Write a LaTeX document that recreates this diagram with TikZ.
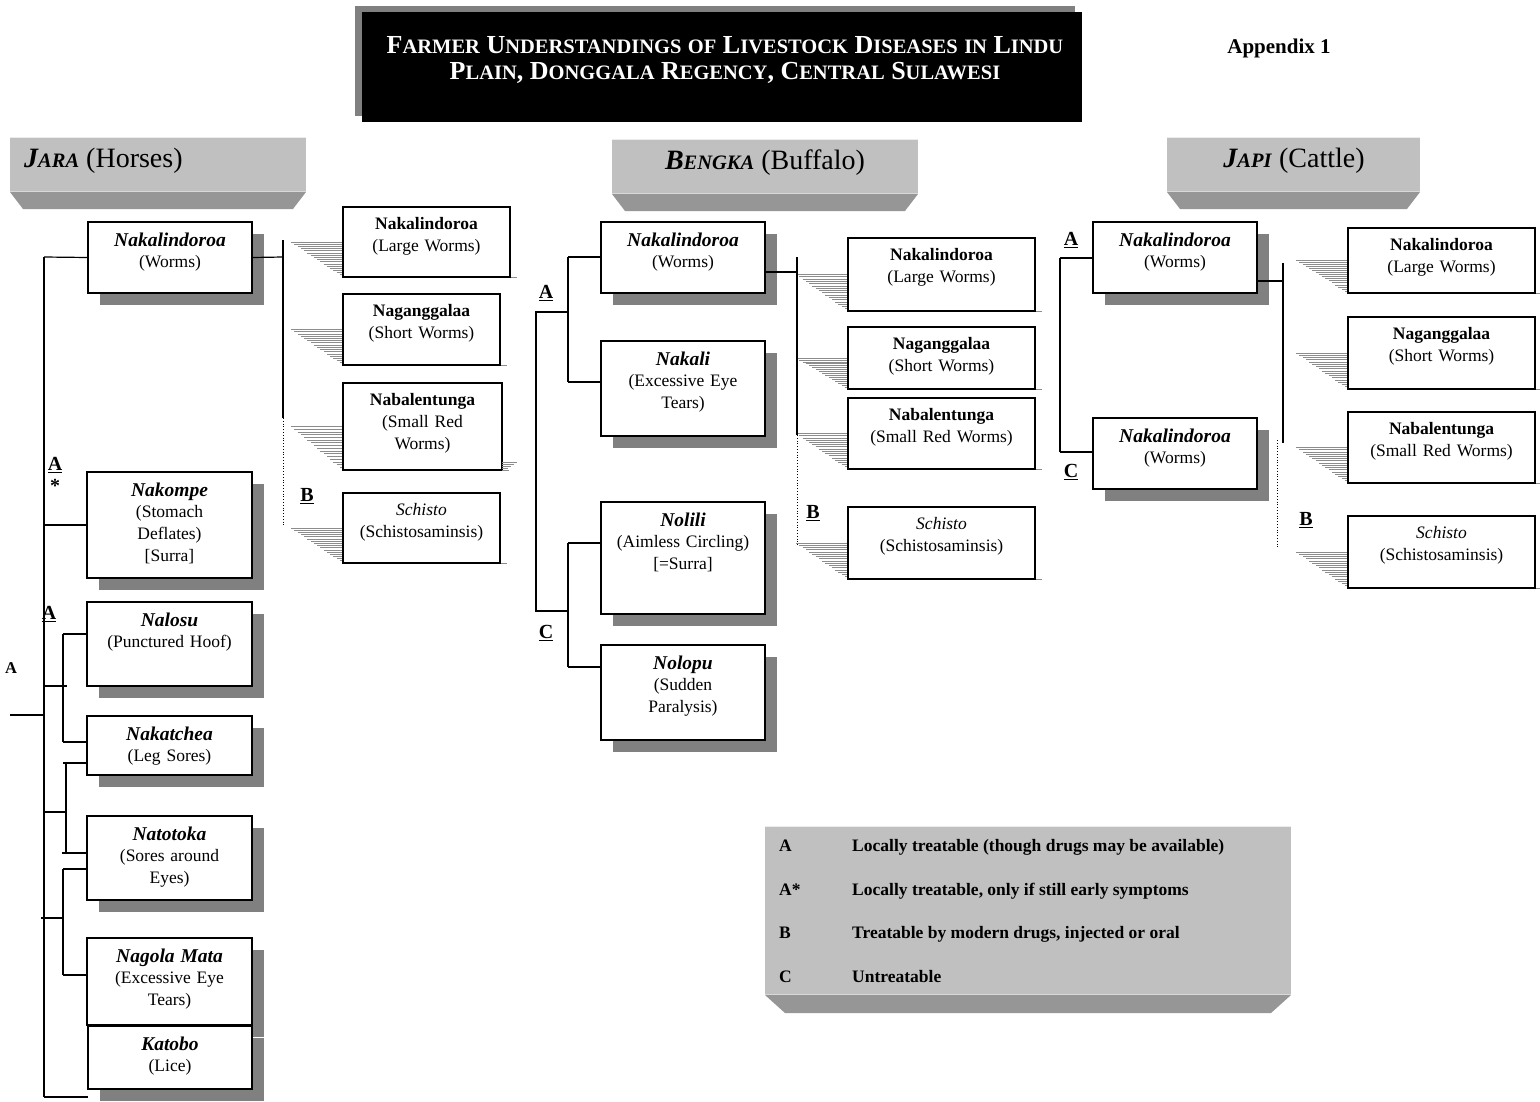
\documentclass[tikz,border=0pt]{standalone}
\usepackage{fontspec}
\setmainfont{Liberation Serif}
\usetikzlibrary{calc}
\definecolor{shd}{HTML}{808080}
\definecolor{hdlight}{HTML}{C0C0C0}
\definecolor{hddark}{HTML}{969696}
\definecolor{hatchc}{HTML}{8C8C8C}
\newcommand\tsc[2]{#1{\fontsize{20.5}{20.5}\selectfont #2}}
\newcommand\hsc[2]{#1{\fontsize{20.5}{20.5}\selectfont #2}}
\newcommand\bi[1]{{\fontsize{19.5}{21.5}\selectfont\bfseries\itshape #1}}
\newcommand\hbi[1]{\textbf{\textit{#1}}}
% name x1 y1 x2 y2 text : box with drop shadow
\newcommand\dropbox[6]{%
  \pgfmathsetmacro\bw{#4-#2}\pgfmathsetmacro\bh{#5-#3}%
  \fill[shd] ({#2+12},{#3+12}) rectangle ({#4+12},{#5+12});
  \node[box, minimum width=\bw pt, minimum height=\bh pt] (#1) at (#2,#3) {};
  \node[txt, text width=\bw pt] (#1t) at ([yshift=-10.5pt]#1.north) {#6};
}
% name x1 y1 x2 y2 text : box with hatched shadow at left
\newcommand\hatchbox[6]{%
  \pgfmathsetmacro\bw{#4-#2}\pgfmathsetmacro\bh{#5-#3}%
  \foreach \k in {0,...,16}{%
    \draw[hatchc, line width=0.7pt] ({#2-52*(1-\k/16)},{(#3+#5)/2+\k/16*(#5-#3)/2}) -- (#2,{(#3+#5)/2+\k/16*(#5-#3)/2});
  }
  \draw[hatchc, line width=0.7pt] (#4,#5) -- ({#4+7},#5);
  \node[box, minimum width=\bw pt, minimum height=\bh pt] (#1) at (#2,#3) {};
  \node[txt, text width=\bw pt] (#1t) at ([yshift=-10.5pt]#1.north) {#6};
}
% name x1 y1 x2 y2 : header banner
\newcommand\banner[5]{%
  \fill[hddark] (#2,#5) -- (#4,#5) -- ({#4-13},{#5+17}) -- ({#2+13},{#5+17}) -- cycle;
  \fill[hdlight] (#2,#3) rectangle (#4,#5);
  \draw[white!70!hdlight, line width=1.2pt] (#2,{#3+0.6}) -- (#4,{#3+0.6});
  \draw[white!40!hdlight, line width=1pt] (#2,{#5-0.5}) -- (#4,{#5-0.5});
  \coordinate (#1) at ({(#2+#4)/2},{(#3+#5)/2});
}
\begin{document}
\begin{tikzpicture}[x=1pt,y=-1pt,
  box/.style={draw=black, line width=1.3pt, fill=white, inner sep=0pt, outer sep=0pt, anchor=north west},
  txt/.style={anchor=north, align=center, inner sep=0pt, font=\fontsize{17.5}{21.6}\selectfont},
  conn/.style={line width=1.2pt},
  dconn/.style={line width=0.8pt, dotted},
  lab/.style={font=\fontsize{20}{20}\selectfont\bfseries, inner sep=0pt},
  leg/.style={font=\fontsize{17.5}{17.5}\selectfont\bfseries, inner sep=0pt, anchor=base west},
]
\useasboundingbox (0,0) rectangle (1540,1101);
\fill[white] (0,0) rectangle (1540,1101);

% ---------- title ----------
\fill[shd] (355,6) rectangle (1075,116);
\fill[black] (362,12) rectangle (1082,122);
\node[text=white, align=center, font=\fontsize{26}{26}\selectfont\bfseries, inner sep=0pt] (title) at (725,60)
  {\tsc{F}{ARMER} \tsc{U}{NDERSTANDINGS} \tsc{}{OF} \tsc{L}{IVESTOCK} \tsc{D}{ISEASES} \tsc{}{IN} \tsc{L}{INDU}\\
   \tsc{P}{LAIN}, \tsc{D}{ONGGALA} \tsc{R}{EGENCY}, \tsc{C}{ENTRAL} \tsc{S}{ULAWESI}};
\node[font=\fontsize{21}{21}\selectfont\bfseries, inner sep=0pt] (app) at (1279,48) {Appendix 1};

% ---------- headers ----------
\banner{hJ}{10}{137}{306}{192}
\node[anchor=base west, inner sep=0pt, font=\fontsize{28}{28}\selectfont] (hJt) at (24,167) {\hbi{\hsc{J}{ARA}} (Horses)};
\banner{hB}{612}{139}{918}{194}
\node[anchor=base, inner sep=0pt, font=\fontsize{28}{28}\selectfont] (hBt) at (765,169) {\hbi{\hsc{B}{ENGKA}} (Buffalo)};
\banner{hC}{1167}{137}{1420}{192}
\node[anchor=base, inner sep=0pt, font=\fontsize{28}{28}\selectfont] (hCt) at (1294,167) {\hbi{\hsc{J}{API}} (Cattle)};

% ---------- JARA ----------
\dropbox{jw}{88}{222}{252}{293}{\bi{Nakalindoroa}\\(Worms)}
\dropbox{jko}{87}{472}{252}{578}{\bi{Nakompe}\\(Stomach\\Deflates)\\{[Surra]}}
\dropbox{jlo}{87}{602}{252}{686}{\bi{Nalosu}\\(Punctured Hoof)}
\dropbox{jka}{87}{716}{252}{775}{\bi{Nakatchea}\\(Leg Sores)}
\dropbox{jto}{87}{816}{252}{900}{\bi{Natotoka}\\(Sores around\\Eyes)}
\dropbox{jgm}{87}{938}{252}{1025}{\bi{Nagola Mata}\\(Excessive Eye\\Tears)}
\dropbox{jkt}{88}{1026}{252}{1089}{\bi{Katobo}\\(Lice)}

\hatchbox{jr1}{343}{207}{510}{277}{\textbf{Nakalindoroa}\\(Large Worms)}
\hatchbox{jr2}{343}{294}{500}{365}{\textbf{Naganggalaa}\\(Short Worms)}
\hatchbox{jr3}{343}{383}{502}{470}{\textbf{Nabalentunga}\\(Small Red\\Worms)}
\foreach \k in {0,...,4}{\draw[hatchc, line width=0.7pt] (502,{462+2*\k}) -- ({517-3*\k},{462+2*\k});}
\hatchbox{jr4}{343}{493}{500}{563}{\textit{Schisto}\\(Schistosaminsis)}

% Jara connectors
\coordinate (jTop) at (44,257);
\coordinate (jBot) at (44,1097);
\coordinate (jRoot) at (10,715);
\draw[conn] (jTop) -- (jBot);
\draw[conn] (jRoot) -- (jRoot -| jTop);
\draw[conn] (jw.west) -- (jTop);
\draw[conn] (jBot) -- (jBot -| jkt.west);
\draw[conn] (jko.west) -- (jko.west -| jTop);
% bracket 1
\coordinate (b1a) at (63,634); \coordinate (b1b) at (63,742); \coordinate (b1s) at (44,686);
\draw[conn] (b1a) -- (b1b);
\draw[conn] (b1a) -- (b1a -| jlo.west);
\draw[conn] (b1b) -- (b1b -| jka.west);
\draw[conn] (b1s) -- ++(23,0);
% bracket 2
\coordinate (b2a) at (66,763); \coordinate (b2b) at (66,853); \coordinate (b2s) at (44,812);
\draw[conn] (b2a) -- (b2b);
\draw[conn] ([xshift=-3pt]b2a) -- (b2a -| jka.west);
\draw[conn] ([xshift=-4pt]b2b) -- (b2b -| jto.west);
\draw[conn] (b2s) -- (b2s -| b2a);
% bracket 3
\coordinate (b3a) at (63,869); \coordinate (b3b) at (63,975); \coordinate (b3s) at (41,918);
\draw[conn] (b3a) -- (b3b);
\draw[conn] (b3a) -- (b3a -| jto.west);
\draw[conn] (b3b) -- (b3b -| jgm.west);
\draw[conn] (b3s) -- (b3s -| b3a);
% right side
\coordinate (jrs) at (283,257);
\draw[conn] (jw.east) -- (jrs);
\draw[conn] (283,240) coordinate (jrT) -- (283,418) coordinate (jrM);
\draw[dconn] (jrM) -- (283,525) coordinate (jrB);

\node[lab] (la1) at (55,465) {\underline{A}};
\node[lab] (la1s) at (55,486) {*};
\node[lab] (la2) at (49,614) {\underline{A}};
\node[lab, font=\fontsize{16.5}{16.5}\selectfont\bfseries] (la3) at (11,668) {A};
\node[lab] (lb1) at (307,496) {\underline{B}};

% ---------- BENGKA ----------
\dropbox{bw}{601}{222}{765}{293}{\bi{Nakalindoroa}\\(Worms)}
\dropbox{bka}{601}{341}{765}{436}{\bi{Nakali}\\(Excessive Eye\\Tears)}
\dropbox{bli}{601}{502}{765}{614}{\bi{Nolili}\\(Aimless Circling)\\{[=Surra]}}
\dropbox{blo}{601}{645}{765}{740}{\bi{Nolopu}\\(Sudden\\Paralysis)}

\hatchbox{br1}{848}{238}{1035}{311}{\textbf{Nakalindoroa}\\(Large Worms)}
\hatchbox{br2}{848}{327}{1035}{389}{\textbf{Naganggalaa}\\(Short Worms)}
\hatchbox{br3}{848}{398}{1035}{469}{\textbf{Nabalentunga}\\(Small Red Worms)}
\hatchbox{br4}{848}{507}{1035}{579}{\textit{Schisto}\\(Schistosaminsis)}

\coordinate (bA1) at (568,257); \coordinate (bA2) at (568,382); \coordinate (bAs) at (568,312);
\coordinate (bC1) at (568,543); \coordinate (bC2) at (568,667); \coordinate (bCs) at (568,611);
\coordinate (bR1) at (536,312); \coordinate (bR2) at (536,611);
\draw[conn] (bA1) -- (bA2);
\draw[conn] (bA1) -- (bA1 -| bw.west);
\draw[conn] (bA2) -- (bA2 -| bka.west);
\draw[conn] (bC1) -- (bC2);
\draw[conn] (bC1) -- (bC1 -| bli.west);
\draw[conn] (bC2) -- (bC2 -| blo.west);
\draw[conn] (bAs) -- (bR1) -- (bR2) -- (bCs);
\coordinate (brs) at (797,272);
\draw[conn] (bw.east |- brs) -- (brs);
\draw[conn] (797,257) coordinate (brT) -- (797,435) coordinate (brM);
\draw[dconn] (brM) -- (797,545) coordinate (brB);

\node[lab] (lbA) at (546,293) {\underline{A}};
\node[lab] (lbC) at (546,633) {\underline{C}};
\node[lab] (lbB) at (813,513) {\underline{B}};

% ---------- JAPI ----------
\dropbox{ca}{1093}{222}{1257}{293}{\bi{Nakalindoroa}\\(Worms)}
\dropbox{cc}{1093}{418}{1257}{489}{\bi{Nakalindoroa}\\(Worms)}

\hatchbox{cr1}{1348}{228}{1535}{293}{\textbf{Nakalindoroa}\\(Large Worms)}
\hatchbox{cr2}{1348}{317}{1535}{389}{\textbf{Naganggalaa}\\(Short Worms)}
\hatchbox{cr3}{1348}{412}{1535}{483}{\textbf{Nabalentunga}\\(Small Red Worms)}
\hatchbox{cr4}{1348}{516}{1535}{588}{\textit{Schisto}\\(Schistosaminsis)}

\coordinate (cA) at (1060,258); \coordinate (cC) at (1060,452);
\draw[conn] (cA) -- (cC);
\draw[conn] (cA) -- (cA -| ca.west);
\draw[conn] (cC) -- (cC -| cc.west);
\coordinate (crs) at (1283,281);
\draw[conn] (ca.east |- crs) -- (crs);
\draw[conn] (1283,263) coordinate (crT) -- (1283,443) coordinate (crM);
\draw[dconn] (1277,440) coordinate (crM2) -- (1277,548) coordinate (crB);

\node[lab] (lcA) at (1071,240) {\underline{A}};
\node[lab] (lcC) at (1071,472) {\underline{C}};
\node[lab] (lcB) at (1306,520) {\underline{B}};

% ---------- legend ----------
\fill[hddark] (765,995) -- (1291,995) -- (1271,1013) -- (785,1013) -- cycle;
\fill[hdlight] (765,826) rectangle (1291,995);
\draw[white!70!hdlight, line width=1.2pt] (765,826.6) -- (1291,826.6);
\draw[white!40!hdlight, line width=1pt] (765,994.5) -- (1291,994.5);
\node[leg] (k1) at (779,851) {A};
\node[leg] (t1) at (852,851) {Locally treatable (though drugs may be available)};
\node[leg] (k2) at (779,895) {A*};
\node[leg] (t2) at (852,895) {Locally treatable, only if still early symptoms};
\node[leg] (k3) at (779,938) {B};
\node[leg] (t3) at (852,938) {Treatable by modern drugs, injected or oral};
\node[leg] (k4) at (779,982) {C};
\node[leg] (t4) at (852,982) {Untreatable};
\end{tikzpicture}
\end{document}
